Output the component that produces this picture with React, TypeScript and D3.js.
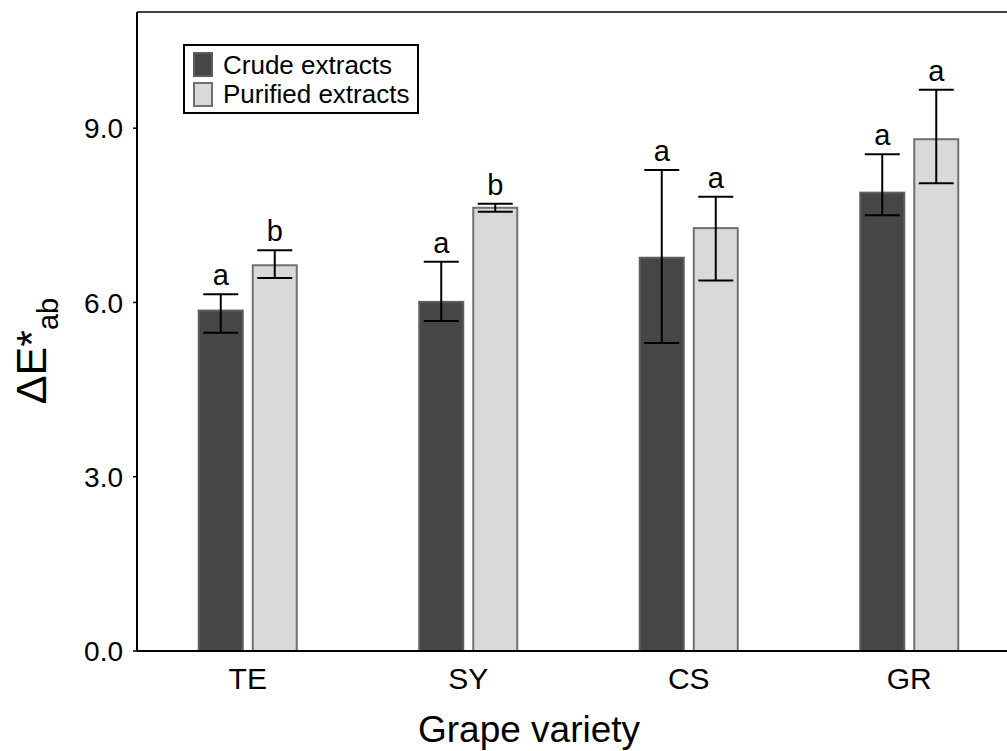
import React from "react";
import * as d3 from "d3";

const categories = ["TE", "SY", "CS", "GR"];
const seriesNames = ["Crude extracts", "Purified extracts"];
const crudeMean = [5.86, 6.01, 6.77, 7.89];
const crudeErrUp = [0.28, 0.69, 1.51, 0.66];
const crudeErrDown = [0.38, 0.33, 1.47, 0.39];
const crudeLetters = ["a", "a", "a", "a"];
const purifiedMean = [6.64, 7.63, 7.28, 8.81];
const purifiedErrUp = [0.26, 0.07, 0.54, 0.85];
const purifiedErrDown = [0.22, 0.07, 0.9, 0.76];
const purifiedLetters = ["b", "b", "a", "a"];
const yTicks = [0, 3, 6, 9];

const W = 1007;
const H = 751;
const FONT = "'Liberation Sans', Arial, Helvetica, sans-serif";

export default function App() {
  const left = 137;
  const top = 12;
  const bottom = 651;
  const step = 220.5;
  const x = d3
    .scaleBand<string>()
    .domain(categories)
    .range([left + 0.5, left + 0.5 + step * categories.length])
    .padding(0);
  const y = d3.scaleLinear().domain([0, 11]).range([bottom, top]);
  const fmt = d3.format(".1f");
  const barW = 44;
  const gap = 10;

  const series = [
    {
      name: seriesNames[0],
      mean: crudeMean,
      up: crudeErrUp,
      down: crudeErrDown,
      letters: crudeLetters,
      fill: "#464646",
      stroke: "#5e5e5e",
      offset: -gap / 2 - barW,
    },
    {
      name: seriesNames[1],
      mean: purifiedMean,
      up: purifiedErrUp,
      down: purifiedErrDown,
      letters: purifiedLetters,
      fill: "#d9d9d9",
      stroke: "#707070",
      offset: gap / 2,
    },
  ];

  return (
    <svg
      width={W}
      height={H}
      style={{ position: "absolute", left: 0, top: 0, background: "#fff" }}
      fontFamily={FONT}
    >
      <rect x={0} y={0} width={W} height={H} fill="#fff" />
      {/* bars */}
      {series.map((s, si) =>
        categories.map((c, i) => {
          const cx = (x(c) as number) + x.bandwidth() / 2;
          const bx = cx + s.offset;
          return (
            <rect
              key={`b${si}${i}`}
              x={bx}
              y={y(s.mean[i])}
              width={barW}
              height={bottom - y(s.mean[i])}
              fill={s.fill}
              stroke={s.stroke}
              strokeWidth={2}
            />
          );
        })
      )}
      {/* error bars and letters */}
      {series.map((s, si) =>
        categories.map((c, i) => {
          const cx = (x(c) as number) + x.bandwidth() / 2;
          const ex = cx + s.offset + barW / 2;
          const yu = y(s.mean[i] + s.up[i]);
          const yd = y(s.mean[i] - s.down[i]);
          const hw = 17.5;
          return (
            <g key={`e${si}${i}`} stroke="#000" strokeWidth={2}>
              <line x1={ex} x2={ex} y1={yu} y2={yd} />
              <line x1={ex - hw} x2={ex + hw} y1={yu} y2={yu} />
              <line x1={ex - hw} x2={ex + hw} y1={yd} y2={yd} />
              <text
                x={ex}
                y={yu - 9}
                textAnchor="middle"
                fontSize={29}
                stroke="none"
                fill="#000"
              >
                {s.letters[i]}
              </text>
            </g>
          );
        })
      )}
      {/* frame */}
      <line x1={left} x2={W + 20} y1={top} y2={top} stroke="#000" strokeWidth={1.5} />
      <line x1={left} x2={left} y1={top} y2={bottom} stroke="#000" strokeWidth={2} />
      <line x1={left} x2={W + 20} y1={bottom} y2={bottom} stroke="#000" strokeWidth={2} />
      {/* y ticks */}
      {yTicks.map((t) => (
        <g key={`t${t}`}>
          <line x1={left - 4} x2={left} y1={y(t)} y2={y(t)} stroke="#000" strokeWidth={1.5} />
          <text
            x={123}
            y={y(t)}
            dy="0.36em"
            textAnchor="end"
            fontSize={28}
            fill="#000"
          >
            {fmt(t)}
          </text>
        </g>
      ))}
      {/* x tick labels */}
      {categories.map((c) => (
        <text
          key={`x${c}`}
          x={(x(c) as number) + x.bandwidth() / 2}
          y={689}
          textAnchor="middle"
          fontSize={30}
          fill="#000"
        >
          {c}
        </text>
      ))}
      {/* axis titles */}
      <text x={529} y={742} textAnchor="middle" fontSize={37} fill="#000">
        Grape variety
      </text>
      <text
        transform="translate(46,351) rotate(-90)"
        textAnchor="middle"
        fontSize={43}
        fill="#000"
      >
        ΔE*
        <tspan fontSize={29} dy={12}>
          ab
        </tspan>
      </text>
      {/* legend */}
      <rect x={184} y={45} width={234} height={68} fill="#fff" stroke="#000" strokeWidth={2} />
      {series.map((s, si) => (
        <g key={`l${si}`}>
          <rect
            x={194}
            y={53 + si * 30}
            width={18}
            height={23}
            fill={s.fill}
            stroke={s.stroke}
            strokeWidth={2}
          />
          <text x={223} y={74 + si * 29} fontSize={26} fill="#000">
            {s.name}
          </text>
        </g>
      ))}
    </svg>
  );
}
